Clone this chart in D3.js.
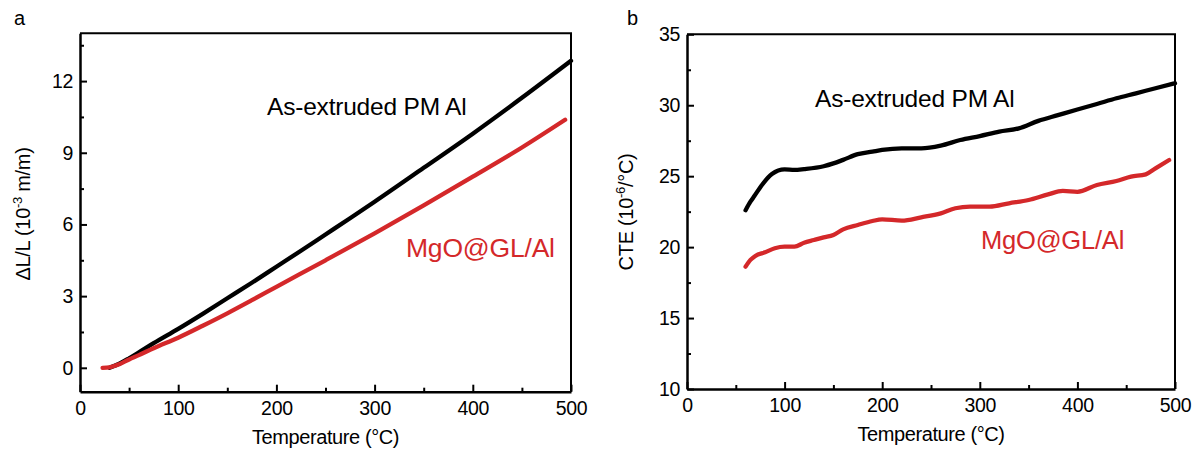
<!DOCTYPE html>
<html>
<head>
<meta charset="utf-8">
<script src="https://cdn.jsdelivr.net/npm/d3@7"></script>
<style>
  html, body { margin: 0; padding: 0; background: #fff; }
  svg { display: block; font-family: "Liberation Sans", Arial, sans-serif; }
</style>
</head>
<body>
<svg id="chart" width="1203" height="452"></svg>
<script>
// ---- Data ----
// Panel a: thermal expansion ΔL/L (10^-3 m/m) vs temperature (°C)
const aBlackT = [30, 40, 50, 60, 75, 100, 125, 150, 175, 200, 225, 250, 275, 300, 350, 400, 450, 500];
const aBlackV = [0, 0.17, 0.4, 0.65, 1.03, 1.63, 2.26, 2.91, 3.56, 4.23, 4.9, 5.58, 6.26, 6.95, 8.37, 9.8, 11.3, 12.85];
const aRedT = [23, 30, 40, 50, 60, 75, 100, 125, 150, 175, 200, 250, 300, 350, 400, 450, 494];
const aRedV = [0, 0.02, 0.15, 0.35, 0.53, 0.82, 1.26, 1.76, 2.28, 2.83, 3.39, 4.5, 5.63, 6.8, 8.0, 9.22, 10.38];

// Panel b: CTE (10^-6/°C) vs temperature (°C)
const bBlackT = [60, 65, 69, 77, 87, 100, 110, 120, 140, 150, 160, 175, 190, 200, 220, 240, 260, 280, 300, 320, 340, 360, 380, 400, 420, 440, 460, 480, 500];
const bBlackV = [22.6, 23.2, 23.6, 24.4, 25.15, 25.48, 25.44, 25.5, 25.7, 25.9, 26.15, 26.55, 26.73, 26.85, 26.96, 26.96, 27.15, 27.55, 27.83, 28.14, 28.37, 28.9, 29.3, 29.7, 30.09, 30.49, 30.84, 31.2, 31.55];
const bRedT = [60, 65, 70, 80, 90, 100, 110, 120, 130, 140, 150, 160, 175, 190, 200, 220, 240, 260, 275, 290, 310, 330, 350, 370, 385, 400, 420, 440, 455, 470, 480, 494];
const bRedV = [18.62, 19.1, 19.38, 19.63, 19.92, 20.03, 20.03, 20.31, 20.5, 20.69, 20.86, 21.25, 21.56, 21.84, 21.96, 21.87, 22.1, 22.38, 22.74, 22.85, 22.85, 23.09, 23.32, 23.72, 23.96, 23.9, 24.38, 24.66, 24.97, 25.13, 25.55, 26.14];

// Ticks
const xMajor = [0, 100, 200, 300, 400, 500];
const xMinor = [50, 150, 250, 350, 450];
const aYMajor = [0, 3, 6, 9, 12];
const aYMinor = [1.5, 4.5, 7.5, 10.5, 13.5];
const bYMajor = [10, 15, 20, 25, 30, 35];
const bYMinor = [12.5, 17.5, 22.5, 27.5, 32.5];

// Text
const xTitle = "Temperature (\u00B0C)";
const seriesNames = ["As-extruded PM Al", "MgO@GL/Al"];
const colors = ["#000000", "#d4282a"];

const svg = d3.select("#chart");

function zip(t, v) { return t.map((d, i) => ({ t: d, v: v[i] })); }

function panel(cfg) {
  const x = d3.scaleLinear().domain([0, 500]).range([cfg.left, cfg.right]);
  const y = d3.scaleLinear().domain(cfg.yDomain).range([cfg.bottom, cfg.top]);
  const g = svg.append("g");

  // frame top and right
  g.append("path")
    .attr("d", `M${cfg.left},${cfg.top}H${cfg.right}V${cfg.bottom}`)
    .attr("fill", "none").attr("stroke", "#000").attr("stroke-width", 2);

  // series
  const line = d3.line().x(d => x(d.t)).y(d => y(d.v)).curve(d3.curveMonotoneX);
  cfg.series.forEach((s, i) => {
    g.append("path").datum(zip(s.t, s.v))
      .attr("d", line)
      .attr("fill", "none")
      .attr("stroke", colors[i])
      .attr("stroke-width", 4.3)
      .attr("stroke-linecap", "round")
      .attr("stroke-linejoin", "round");
  });

  // minor ticks
  g.append("g").attr("transform", `translate(0,${cfg.bottom})`)
    .call(d3.axisBottom(x).tickValues(xMinor).tickSize(-4).tickSizeOuter(0).tickFormat(""))
    .call(a => a.select(".domain").remove())
    .call(a => a.selectAll("line").attr("stroke-width", 2));
  g.append("g").attr("transform", `translate(${cfg.left},0)`)
    .call(d3.axisLeft(y).tickValues(cfg.yMinor).tickSize(-4).tickSizeOuter(0).tickFormat(""))
    .call(a => a.select(".domain").remove())
    .call(a => a.selectAll("line").attr("stroke-width", 2));

  // major axes
  const xa = g.append("g").attr("transform", `translate(0,${cfg.bottom})`)
    .call(d3.axisBottom(x).tickValues(xMajor).tickSize(-7).tickSizeOuter(0).tickPadding(9).tickFormat(d3.format("d")));
  const ya = g.append("g").attr("transform", `translate(${cfg.left},0)`)
    .call(d3.axisLeft(y).tickValues(cfg.yMajor).tickSize(-7).tickSizeOuter(0).tickPadding(7).tickFormat(d3.format("d")));
  [xa, ya].forEach(a => {
    a.select(".domain").attr("stroke-width", 2.5);
    a.selectAll("line").attr("stroke-width", 2);
    a.selectAll("text").attr("font-size", 19.5).attr("fill", "#000")
      .attr("letter-spacing", -0.3)
      .attr("font-family", "'Liberation Sans', Arial, sans-serif");
  });

  // x title
  g.append("text")
    .attr("x", (cfg.left + cfg.right) / 2).attr("y", cfg.bottom + 52)
    .attr("text-anchor", "middle").attr("font-size", 20)
    .attr("letter-spacing", -0.4)
    .text(xTitle);

  // y title
  const yt = g.append("text")
    .attr("transform", `translate(${cfg.yTitleX},${cfg.yTitleY}) rotate(-90)`)
    .attr("text-anchor", "middle").attr("font-size", 20)
    .attr("letter-spacing", -0.3);
  yt.append("tspan").text(cfg.yTitle[0]);
  yt.append("tspan").attr("font-size", 13).attr("dy", -8).text(cfg.yTitle[1]);
  yt.append("tspan").attr("dy", 8).text(cfg.yTitle[2]);

  // panel letter
  g.append("text").attr("x", cfg.letterX).attr("y", 25).attr("font-size", 20).text(cfg.letter);

  // annotations
  cfg.labels.forEach((l, i) => {
    g.append("text").attr("x", l[0]).attr("y", l[1])
      .attr("font-size", l[2]).attr("fill", colors[i])
      .attr("letter-spacing", -0.2)
      .text(seriesNames[i]);
  });
}

panel({
  left: 80, right: 571, top: 33.3, bottom: 391.7,
  yDomain: [-1, 14], yMajor: aYMajor, yMinor: aYMinor,
  series: [{ t: aBlackT, v: aBlackV }, { t: aRedT, v: aRedV }],
  yTitle: ["\u0394L/L (10", "-3", " m/m)"], yTitleX: 30, yTitleY: 214,
  letter: "a", letterX: 14,
  labels: [[267, 115, 24.5], [406, 257, 26.5]]
});

panel({
  left: 687, right: 1175, top: 34.3, bottom: 389,
  yDomain: [10, 35], yMajor: bYMajor, yMinor: bYMinor,
  series: [{ t: bBlackT, v: bBlackV }, { t: bRedT, v: bRedV }],
  yTitle: ["CTE (10", "-6", "/\u00B0C)"], yTitleX: 633, yTitleY: 212,
  letter: "b", letterX: 627,
  labels: [[815, 107, 24.5], [981, 249, 25.5]]
});
</script>
</body>
</html>
